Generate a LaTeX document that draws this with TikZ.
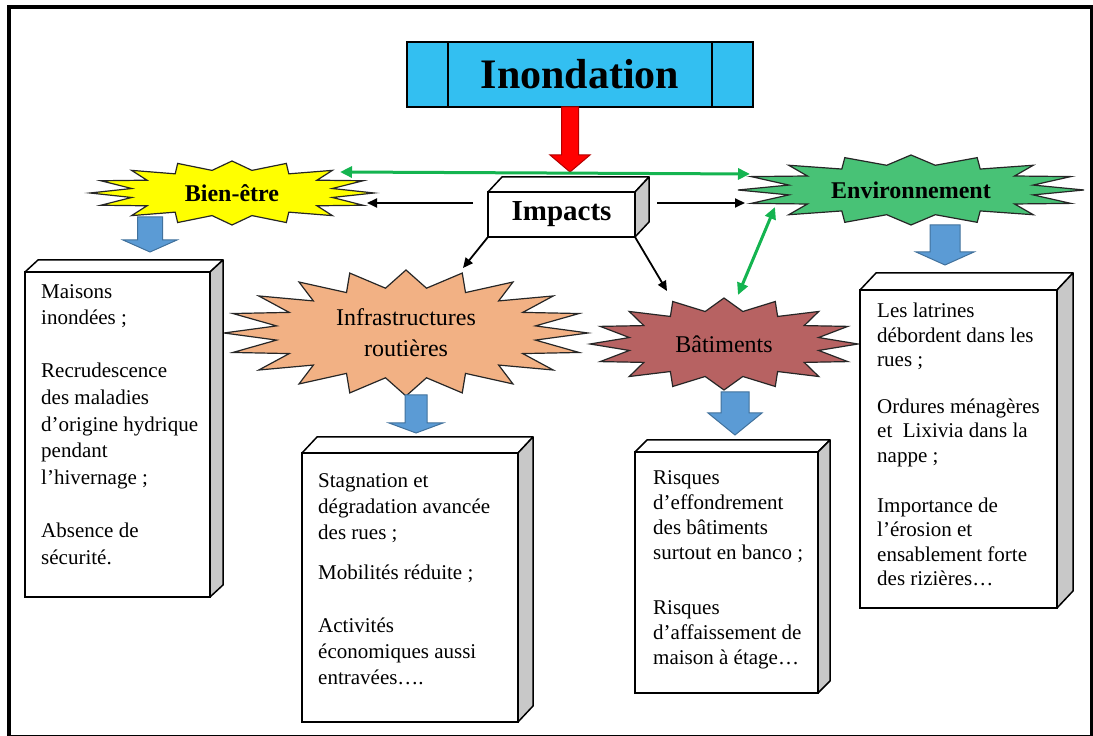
\documentclass[tikz,border=0pt]{standalone}
\usepackage{fontspec}
\setmainfont{Liberation Serif}
\usetikzlibrary{shapes.geometric}
\usetikzlibrary{arrows.meta}

\definecolor{titlecyan}{RGB}{51,191,241}
\definecolor{burstyellow}{RGB}{255,255,0}
\definecolor{burstgreen}{RGB}{72,194,118}
\definecolor{burstorange}{RGB}{242,177,132}
\definecolor{burstred}{RGB}{183,98,98}
\definecolor{arrowgreen}{RGB}{20,180,80}
\definecolor{blockblue}{RGB}{91,155,213}
\definecolor{blockblueline}{RGB}{65,113,156}
\definecolor{sidegray}{RGB}{200,200,200}

\tikzset{
  titlebox/.style={draw, line width=1.5pt, fill=titlecyan, minimum width=346, minimum height=65,
    inner sep=0, outer sep=0, font=\fontsize{42}{48}\selectfont\bfseries},
  cube/.style={draw, line width=1.5pt, fill=white, inner sep=0, outer sep=0},
  cubeline/.style={line width=1.5pt, line join=round},
  boxtext/.style={align=left, inner sep=0, anchor=north west},
  burstline/.style={draw=black!85, line width=1.2pt},
  bursttext/.style={shape=ellipse, inner sep=0, outer sep=0, align=center,
    font=\fontsize{24}{31}\selectfont},
  blackarrow/.style={line width=1.8pt, -{Triangle[length=10pt, width=9pt]}},
  greenarrow/.style={draw=arrowgreen, line width=3pt,
    {Triangle[length=12pt, width=11pt]}-{Triangle[length=12pt, width=11pt]}},
  redblock/.style={draw=red!70!black, line width=1pt, fill=red},
  blueblock/.style={draw=blockblueline, line width=1pt, fill=blockblue}
}

% explosion: name, x, y, rx, ry, last index, colour, text
\newcommand{\burst}[8]{%
  \draw[burstline, fill=#7] plot[samples at={0,...,#6}, variable=\k]
    ({#2+(0.86+0.14*cos(180*\k))*#4*cos(\k*360/(#6+1))},
     {#3+(0.86+0.14*cos(180*\k))*#5*sin(\k*360/(#6+1))}) -- cycle;
  \node[bursttext, minimum width=2*#4, minimum height=2*#5] (#1) at (#2,#3) {#8};
}
% block arrow pointing down: style, x, top, half shaft, half head, shaft, head
\newcommand{\downblock}[7]{%
  \draw[#1] (#2-#4,#3) -- (#2+#4,#3) -- (#2+#4,#3-#6) -- (#2+#5,#3-#6)
    -- (#2,#3-#6-#7) -- (#2-#5,#3-#6) -- (#2-#4,#3-#6) -- cycle;
}
% top and side faces of a box node
\newcommand{\cubefaces}[3]{%
  \draw[cubeline, fill=white] (#1.north west) -- ++(#2,#3)
    -- ([shift={(#2,#3)}]#1.north east) -- (#1.north east) -- cycle;
  \draw[cubeline, fill=sidegray] (#1.north east) -- ++(#2,#3)
    -- ([shift={(#2,#3)}]#1.south east) -- (#1.south east) -- cycle;
}

\begin{document}
\begin{tikzpicture}[x=1pt, y=1pt]
  \useasboundingbox (0,0) rectangle (1093,736);
  \draw[line width=4pt] (9,-1) rectangle (1092,729);

  % titre
  \node[titlebox] (inond) at (580,661.5) {Inondation};
  \draw[line width=1.5pt] ([xshift=41pt]inond.north west) -- ([xshift=41pt]inond.south west);
  \draw[line width=1.5pt] ([xshift=-41pt]inond.north east) -- ([xshift=-41pt]inond.south east);
  \downblock{redblock}{570}{629}{8.5}{20}{48}{17}

  % impacts
  \node[cube, minimum width=147, minimum height=45, font=\fontsize{29}{34}\selectfont\bfseries]
    (impacts) at (561.5,521.5) {Impacts};
  \cubefaces{impacts}{14}{15}

  % explosions
  \burst{bien}{232}{543}{142}{32}{31}{burstyellow}{\bfseries Bien-être}
  \burst{env}{911}{546}{173}{35}{31}{burstgreen}{\bfseries Environnement}
  \burst{infra}{406}{403}{182}{63}{39}{burstorange}{Infrastructures\\routières}
  \burst{bat}{724}{392}{134}{46}{31}{burstred}{Bâtiments}

  % fleches
  \draw[blackarrow] ([shift={(-15,11.5)}]impacts.west) -- ([shift={(135,-10)}]bien.center);
  \draw[blackarrow] ([shift={(22,11.5)}]impacts.east) -- ([shift={(-166,-13)}]env.center);
  \draw[blackarrow] (impacts.south west) -- ([shift={(57,65)}]infra.center);
  \draw[blackarrow] (impacts.south east) -- ([shift={(-57,53)}]bat.center);
  \draw[greenarrow] ([shift={(108,21)}]bien.center) -- ([shift={(-161,16)}]env.center);
  \draw[greenarrow] ([shift={(14,49)}]bat.center) -- ([shift={(-136,-17)}]env.center);

  \downblock{blueblock}{150}{519}{12.5}{27}{23}{12}
  \downblock{blueblock}{945}{511}{15}{29}{27}{13}
  \downblock{blueblock}{416}{341}{11}{27}{28}{10}
  \downblock{blueblock}{735}{344}{14}{27}{21}{22}

  % boites
  \node[cube, minimum width=185, minimum height=325, anchor=north west] (bienbox) at (25,464) {};
  \cubefaces{bienbox}{13}{12}
  \node[boxtext, font=\fontsize{21}{26.7}\selectfont] (bientext) at (41,452)
    {Maisons\\inondées ;\\[26.3pt]Recrudescence\\des maladies\\d'origine hydrique\\pendant\\l'hivernage ;\\[26.3pt]Absence de\\sécurité.};

  \node[cube, minimum width=216, minimum height=269, anchor=north west] (infrabox) at (302,283) {};
  \cubefaces{infrabox}{15}{16}
  \node[boxtext, font=\fontsize{21}{26}\selectfont] (infratext) at (318,263)
    {Stagnation et\\dégradation avancée\\des rues ;\\[14pt]Mobilités réduite ;\\[27pt]Activités\\économiques aussi\\entravées….};

  \node[cube, minimum width=183, minimum height=241, anchor=north west] (batbox) at (635,284) {};
  \cubefaces{batbox}{12}{12}
  \node[boxtext, font=\fontsize{21}{25}\selectfont] (battext) at (653,266)
    {Risques\\d'effondrement\\des bâtiments\\surtout en banco ;\\[30pt]Risques\\d'affaissement de\\maison à étage…};

  \node[cube, minimum width=197, minimum height=318, anchor=north west] (envbox) at (860,446) {};
  \cubefaces{envbox}{16}{17}
  \node[boxtext, font=\fontsize{21}{24.3}\selectfont] (envtext) at (877,433)
    {Les latrines\\débordent dans les\\rues ;\\[23pt]Ordures ménagères\\et~ Lixivia dans la\\nappe ;\\[26pt]Importance de\\l'érosion et\\ensablement forte\\des rizières…};
\end{tikzpicture}
\end{document}
